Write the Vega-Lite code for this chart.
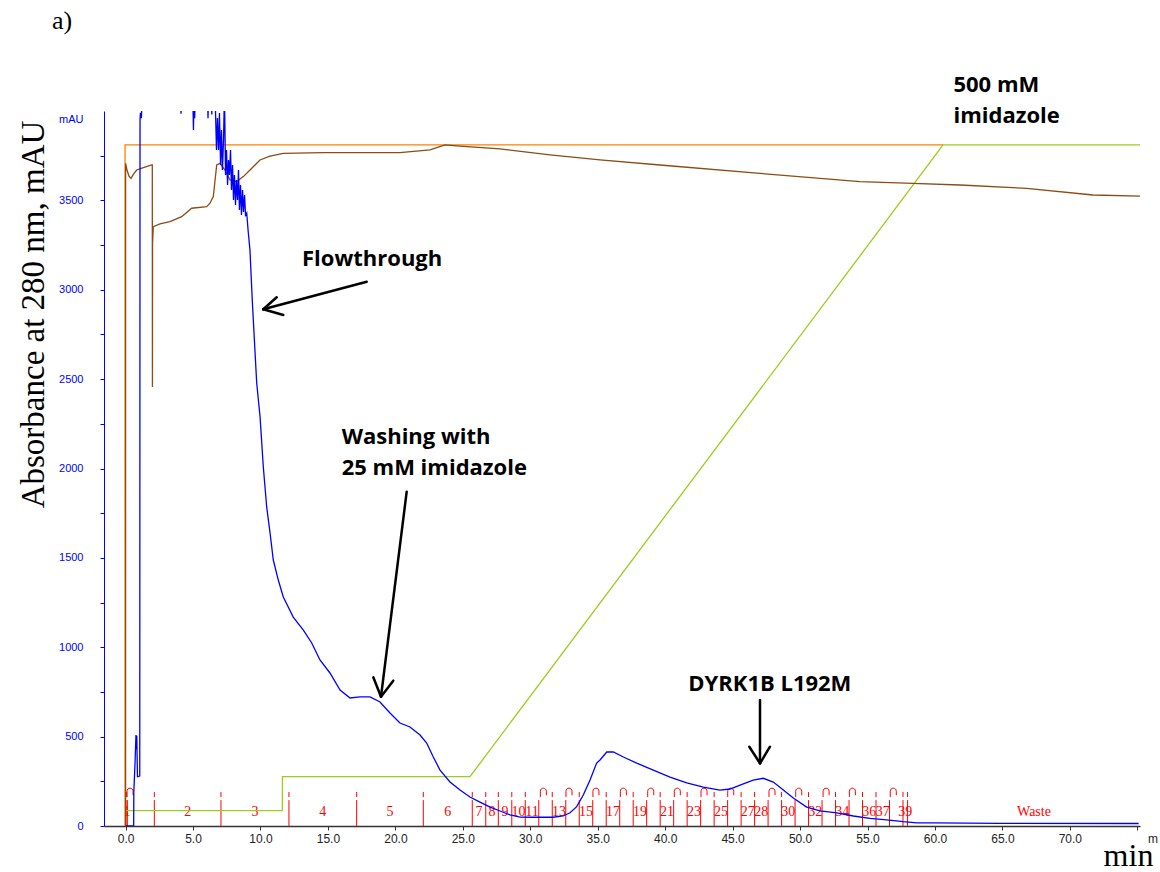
{
  "$schema": "https://vega.github.io/schema/vega-lite/v6.json",
  "width": 1036,
  "height": 715,
  "autosize": {"type": "none"},
  "padding": {"left": 104, "top": 111, "right": 20, "bottom": 46},
  "background": "white",
  "config": {"view": {"stroke": null}, "axis": {"grid": false}},
  "datasets": {
    "uv": [
      {"min":0.03,"mAU":0},{"min":0.57,"mAU":0},{"min":0.6,"mAU":2},{"min":0.61,"mAU":190},{"min":0.7,"mAU":351},{"min":0.77,"mAU":509},{"min":0.8,"mAU":430},{"min":0.83,"mAU":505},{"min":0.88,"mAU":276},{"min":0.95,"mAU":276},{"min":1.05,"mAU":280},{"min":1.07,"mAU":3950},{"min":1.1,"mAU":3990},{"min":1.17,"mAU":3960},{"min":1.25,"mAU":4100},
      {"min":4.06,"mAU":4100},{"min":4.11,"mAU":3985},{"min":4.16,"mAU":4100},{"min":4.98,"mAU":4100},{"min":5.03,"mAU":3894},{"min":5.08,"mAU":4100},{"min":5.12,"mAU":3960},{"min":5.18,"mAU":4100},{"min":6.08,"mAU":4100},{"min":6.11,"mAU":3960},{"min":6.15,"mAU":4100},{"min":6.36,"mAU":4100},{"min":6.39,"mAU":3980},{"min":6.43,"mAU":4100},
      {"min":6.63,"mAU":4100},{"min":6.74,"mAU":3782},{"min":6.81,"mAU":3961},{"min":6.89,"mAU":3782},{"min":6.96,"mAU":3989},{"min":7.04,"mAU":3698},{"min":7.11,"mAU":3894},{"min":7.18,"mAU":3670},{"min":7.26,"mAU":3838},{"min":7.33,"mAU":4100},{"min":7.41,"mAU":3642},{"min":7.48,"mAU":3782},{"min":7.56,"mAU":3586},{"min":7.63,"mAU":3726},{"min":7.7,"mAU":3642},{"min":7.78,"mAU":3782},{"min":7.85,"mAU":3558},{"min":7.93,"mAU":3698},{"min":8.0,"mAU":3502},{"min":8.07,"mAU":3642},{"min":8.15,"mAU":3474},{"min":8.22,"mAU":3614},{"min":8.3,"mAU":3502},{"min":8.37,"mAU":3670},{"min":8.44,"mAU":3446},{"min":8.52,"mAU":3586},{"min":8.59,"mAU":3418},{"min":8.67,"mAU":3558},{"min":8.74,"mAU":3435},{"min":8.82,"mAU":3530},{"min":8.89,"mAU":3418},{"min":8.98,"mAU":3429},
      {"min":9.08,"mAU":3334},{"min":9.22,"mAU":3222},{"min":9.39,"mAU":2943},{"min":9.52,"mAU":2758},{"min":9.72,"mAU":2478},{"min":9.97,"mAU":2288},{"min":10.21,"mAU":2008},{"min":10.46,"mAU":1785},{"min":10.71,"mAU":1639},{"min":10.95,"mAU":1488},{"min":11.32,"mAU":1376},{"min":11.69,"mAU":1281},{"min":12.43,"mAU":1169},{"min":13.18,"mAU":1096},{"min":13.8,"mAU":1024},{"min":14.41,"mAU":929},{"min":15.15,"mAU":856},{"min":15.9,"mAU":761},{"min":16.64,"mAU":716},{"min":17.38,"mAU":722},{"min":18.12,"mAU":722},{"min":18.86,"mAU":694},{"min":19.6,"mAU":632},{"min":20.34,"mAU":576},{"min":21.08,"mAU":554},{"min":21.83,"mAU":509},{"min":22.32,"mAU":464},{"min":22.81,"mAU":386},{"min":23.31,"mAU":313},{"min":24.05,"mAU":246},{"min":24.79,"mAU":201},{"min":25.53,"mAU":162},{"min":26.27,"mAU":134},{"min":27.02,"mAU":106},{"min":27.76,"mAU":84},{"min":28.5,"mAU":62},{"min":29.24,"mAU":50},{"min":30.2,"mAU":49},{"min":31.69,"mAU":49},{"min":32.43,"mAU":56},{"min":32.95,"mAU":74},{"min":33.44,"mAU":108},{"min":33.93,"mAU":173},{"min":34.43,"mAU":257},{"min":34.92,"mAU":352},{"min":35.17,"mAU":369},{"min":35.67,"mAU":414},{"min":36.16,"mAU":414},{"min":36.9,"mAU":386},{"min":37.89,"mAU":352},{"min":39.12,"mAU":313},{"min":40.36,"mAU":274},{"min":41.6,"mAU":241},{"min":42.83,"mAU":218},{"min":44.06,"mAU":201},{"min":44.81,"mAU":207},{"min":45.55,"mAU":229},{"min":46.53,"mAU":257},{"min":47.27,"mAU":267},{"min":48.02,"mAU":246},{"min":48.76,"mAU":201},{"min":49.5,"mAU":157},{"min":50.49,"mAU":106},{"min":51.48,"mAU":84},{"min":52.72,"mAU":73},{"min":53.95,"mAU":56},{"min":55.18,"mAU":43},{"min":56.42,"mAU":34},{"min":57.65,"mAU":24},{"min":58.65,"mAU":18},{"min":60.0,"mAU":17},{"min":64.8,"mAU":15},{"min":75.1,"mAU":14}
    ],
    "cond": [
      {"min":0.0,"mAU":0},{"min":0.001,"mAU":3707},{"min":0.105,"mAU":3670},{"min":0.253,"mAU":3636},{"min":0.402,"mAU":3623},{"min":0.587,"mAU":3647},{"min":0.824,"mAU":3670},{"min":1.313,"mAU":3683},{"min":1.936,"mAU":3698},{"min":1.98,"mAU":3698},{"min":1.99,"mAU":2456},{"min":2.0,"mAU":3261},{"min":2.055,"mAU":3353},{"min":2.551,"mAU":3368},{"min":3.293,"mAU":3381},{"min":4.16,"mAU":3409},{"min":4.901,"mAU":3456},{"min":6.013,"mAU":3465},{"min":6.258,"mAU":3484},{"min":6.503,"mAU":3521},{"min":6.755,"mAU":3698},{"min":7.0,"mAU":3707},{"min":7.37,"mAU":3670},{"min":7.741,"mAU":3614},{"min":8.237,"mAU":3605},{"min":8.727,"mAU":3633},{"min":9.223,"mAU":3670},{"min":9.965,"mAU":3726},{"min":10.706,"mAU":3748},{"min":11.692,"mAU":3763},{"min":14.657,"mAU":3767},{"min":20.343,"mAU":3767},{"min":22.567,"mAU":3782},{"min":23.679,"mAU":3810},{"min":24.791,"mAU":3804},{"min":27.756,"mAU":3788},{"min":31.463,"mAU":3754},{"min":35.169,"mAU":3726},{"min":39.617,"mAU":3698},{"min":47.03,"mAU":3651},{"min":54.443,"mAU":3605},{"min":58.372,"mAU":3595},{"min":61.856,"mAU":3586},{"min":66.801,"mAU":3567},{"min":71.716,"mAU":3530},{"min":75.2,"mAU":3524}
    ],
    "press": [
      {"min":-0.04,"mAU":0},{"min":-0.039,"mAU":3810},{"min":60.6,"mAU":3810}
    ],
    "conc": [
      {"min":0.03,"mAU":86},{"min":11.62,"mAU":86},{"min":11.63,"mAU":276},{"min":25.53,"mAU":276},{"min":60.6,"mAU":3810},{"min":75.2,"mAU":3810}
    ],
    "cuts": [
      {"min":0.03},{"min":0.13},{"min":2.13},{"min":7.07},{"min":12.11},{"min":17.13},{"min":22.07},{"min":25.7},{"min":26.7},{"min":27.63},{"min":28.63},{"min":29.63},{"min":30.63},{"min":31.63},{"min":32.63},{"min":33.63},{"min":34.63},{"min":35.63},{"min":36.63},{"min":37.63},{"min":38.63},{"min":39.63},{"min":40.63},{"min":41.63},{"min":42.63},{"min":43.63},{"min":44.63},{"min":45.63},{"min":46.63},{"min":47.63},{"min":48.63},{"min":49.63},{"min":50.63},{"min":51.63},{"min":52.63},{"min":53.63},{"min":54.63},{"min":55.63},{"min":56.63},{"min":57.63},{"min":57.97}
    ],
    "dashes": [
      {"min":0.08},{"min":2.13},{"min":7.07},{"min":12.11},{"min":17.13},{"min":22.07},{"min":25.7},{"min":26.7},{"min":27.63},{"min":28.63},{"min":29.63},{"min":31.63},{"min":33.63},{"min":35.63},{"min":37.63},{"min":39.63},{"min":41.63},{"min":43.63},{"min":45.63},{"min":46.63},{"min":48.63},{"min":50.63},{"min":52.63},{"min":54.63},{"min":55.63},{"min":57.63},{"min":57.97}
    ],
    "arcs": [
      {"min":0.33},{"min":30.97},{"min":32.87},{"min":34.87},{"min":36.9},{"min":38.93},{"min":40.9},{"min":42.88},{"min":44.86},{"min":47.92},{"min":49.9},{"min":51.93},{"min":53.88},{"min":56.91}
    ],
    "fractions": [
      {"min":0.1,"label":"1"},{"min":4.6,"label":"2"},{"min":9.59,"label":"3"},{"min":14.62,"label":"4"},{"min":19.6,"label":"5"},{"min":23.885,"label":"6"},{"min":26.2,"label":"7"},{"min":27.165,"label":"8"},{"min":28.13,"label":"9"},{"min":29.13,"label":"10"},{"min":30.13,"label":"11"},{"min":32.13,"label":"13"},{"min":34.13,"label":"15"},{"min":36.13,"label":"17"},{"min":38.13,"label":"19"},{"min":40.13,"label":"21"},{"min":42.13,"label":"23"},{"min":44.13,"label":"25"},{"min":46.13,"label":"27"},{"min":47.13,"label":"28"},{"min":49.13,"label":"30"},{"min":51.13,"label":"32"},{"min":53.13,"label":"34"},{"min":55.13,"label":"36"},{"min":56.13,"label":"37"},{"min":57.8,"label":"39"},{"min":67.34,"label":"Waste"}
    ],
    "notes": [
      {"min":13.08,"mAU":3133,"text":"Flowthrough"},
      {"min":16.02,"mAU":2137,"text":"Washing with\n25 mM imidazole"},
      {"min":41.71,"mAU":757,"text":"DYRK1B L192M"},
      {"min":61.37,"mAU":4108,"text":"500 mM\nimidazole"}
    ],
    "arrows": [
      {"min":17.874,"mAU":3045,"min2":10.209,"mAU2":2890.6},
      {"min":11.202,"mAU":2957.8,"min2":10.209,"mAU2":2890.6},
      {"min":11.692,"mAU":2858.7,"min2":10.209,"mAU2":2890.6},
      {"min":20.839,"mAU":1870.2,"min2":18.934,"mAU2":723.4},
      {"min":18.364,"mAU":831.9,"min2":18.934,"mAU2":723.4},
      {"min":19.846,"mAU":812.9,"min2":18.934,"mAU2":723.4},
      {"min":47.03,"mAU":705,"min2":47.03,"mAU2":350.8},
      {"min":46.237,"mAU":443.6,"min2":47.03,"mAU2":350.8},
      {"min":47.771,"mAU":443.6,"min2":47.03,"mAU2":350.8}
    ],
    "misc": [
      {"min":-5.455,"mAU":4459,"text":"a)"}
    ],
    "unit": [
      {"min":75.79,"mAU":-73,"text":"m"}
    ]
  },
  "layer": [
    {
      "data": {"name": "cuts"},
      "mark": {"type": "rule", "color": "#ff0000", "strokeWidth": 1},
      "encoding": {
        "x": {"field": "min", "type": "quantitative", "scale": {"domain": [-1.6, 75.2], "nice": false, "zero": false}},
        "y": {"datum": 0, "type": "quantitative", "scale": {"domain": [0, 4000], "nice": false, "zero": false}},
        "y2": {"datum": 145}
      }
    },
    {
      "data": {"name": "dashes"},
      "mark": {"type": "rule", "color": "#ff0000", "strokeWidth": 1},
      "encoding": {
        "x": {"field": "min", "type": "quantitative"},
        "y": {"datum": 162, "type": "quantitative"},
        "y2": {"datum": 190}
      }
    },
    {
      "data": {"name": "arcs"},
      "mark": {"type": "point", "shape": "M -0.67 1 L -0.67 -0.3 C -0.67 -1.2 0.67 -1.2 0.67 -0.3 L 0.67 0.6", "filled": false, "color": "#ff0000", "strokeWidth": 1, "size": 81, "opacity": 1},
      "encoding": {
        "x": {"field": "min", "type": "quantitative"},
        "y": {"datum": 187, "type": "quantitative"}
      }
    },
    {
      "data": {"name": "fractions"},
      "mark": {"type": "text", "color": "#ff0000", "font": "Liberation Serif", "fontSize": 14, "align": "center", "baseline": "middle"},
      "encoding": {
        "x": {"field": "min", "type": "quantitative"},
        "y": {"datum": 78, "type": "quantitative"},
        "text": {"field": "label"}
      }
    },
    {
      "data": {"name": "press"},
      "mark": {"type": "line", "color": "#ff8000", "strokeWidth": 1.3, "clip": true},
      "encoding": {
        "x": {"field": "min", "type": "quantitative"},
        "y": {"field": "mAU", "type": "quantitative"}
      }
    },
    {
      "data": {"name": "conc"},
      "mark": {"type": "line", "color": "#9acd1e", "strokeWidth": 1.3, "clip": true},
      "encoding": {
        "x": {"field": "min", "type": "quantitative"},
        "y": {"field": "mAU", "type": "quantitative"}
      }
    },
    {
      "data": {"name": "cond"},
      "mark": {"type": "line", "color": "#8a4b14", "strokeWidth": 1.3, "clip": true},
      "encoding": {
        "x": {"field": "min", "type": "quantitative"},
        "y": {"field": "mAU", "type": "quantitative"}
      }
    },
    {
      "data": {"name": "uv"},
      "mark": {"type": "line", "color": "#0000ff", "strokeWidth": 1.3, "clip": true},
      "encoding": {
        "x": {
          "field": "min", "type": "quantitative",
          "axis": {
            "orient": "bottom",
            "values": [0,2.5,5,7.5,10,12.5,15,17.5,20,22.5,25,27.5,30,32.5,35,37.5,40,42.5,45,47.5,50,52.5,55,57.5,60,62.5,65,67.5,70,72.5,75],
            "labelExpr": "(datum.value % 5 === 0 && datum.value < 74) ? format(datum.value, '.1f') : ''",
            "labelFont": "Liberation Sans", "labelFontSize": 12, "labelColor": "#222222",
            "labelPadding": 3, "labelFlush": false, "labelOverlap": false,
            "tickSize": 4, "tickColor": "#333333", "domainColor": "#333333", "domainWidth": 1.5,
            "title": "min", "titleFont": "Liberation Serif", "titleFontSize": 32, "titleFontWeight": "normal", "titleColor": "#000000",
            "titleX": 1024, "titleY": 39, "titleAlign": "center", "titleBaseline": "alphabetic",
            "grid": false
          }
        },
        "y": {
          "field": "mAU", "type": "quantitative",
          "axis": {
            "orient": "left",
            "values": [0,250,500,750,1000,1250,1500,1750,2000,2250,2500,2750,3000,3250,3500,3750,4000],
            "labelExpr": "datum.value === 4000 ? 'mAU' : (datum.value % 500 === 0 ? format(datum.value, 'd') : '')",
            "labelFont": "Liberation Sans", "labelFontSize": 11, "labelColor": "#0000ff",
            "labelPadding": 17, "labelOverlap": false, "labelFlush": false,
            "labelOffset": {"condition": {"test": "datum.value === 4000", "value": 8}, "value": 0},
            "tickOpacity": {"condition": {"test": "datum.value === 4000", "value": 0}, "value": 1},
            "tickSize": 4, "tickColor": "#0000ff", "domainColor": "#0000ff", "domainWidth": 1,
            "title": "Absorbance at 280 nm, mAU", "titleFont": "Liberation Serif", "titleFontSize": 33, "titleFontWeight": "normal", "titleColor": "#000000",
            "titleX": -61, "titleY": 203, "titleAngle": -90, "titleAlign": "center", "titleBaseline": "alphabetic",
            "grid": false
          }
        }
      }
    },
    {
      "data": {"name": "arrows"},
      "mark": {"type": "rule", "color": "#000000", "strokeWidth": 2.5, "strokeCap": "round"},
      "encoding": {
        "x": {"field": "min", "type": "quantitative"},
        "y": {"field": "mAU", "type": "quantitative"},
        "x2": {"field": "min2"},
        "y2": {"field": "mAU2"}
      }
    },
    {
      "data": {"name": "notes"},
      "mark": {"type": "text", "font": "Open Sans", "fontWeight": "bold", "fontSize": 22, "align": "left", "baseline": "alphabetic", "lineBreak": "\n", "lineHeight": 31, "color": "#000000"},
      "encoding": {
        "x": {"field": "min", "type": "quantitative"},
        "y": {"field": "mAU", "type": "quantitative"},
        "text": {"field": "text"}
      }
    },
    {
      "data": {"name": "misc"},
      "mark": {"type": "text", "font": "Liberation Serif", "fontSize": 26, "align": "left", "baseline": "alphabetic", "color": "#000000"},
      "encoding": {
        "x": {"field": "min", "type": "quantitative"},
        "y": {"field": "mAU", "type": "quantitative"},
        "text": {"field": "text"}
      }
    },
    {
      "data": {"name": "unit"},
      "mark": {"type": "text", "font": "Liberation Sans", "fontSize": 12, "align": "left", "baseline": "middle", "color": "#222222"},
      "encoding": {
        "x": {"field": "min", "type": "quantitative"},
        "y": {"field": "mAU", "type": "quantitative"},
        "text": {"field": "text"}
      }
    }
  ]
}
